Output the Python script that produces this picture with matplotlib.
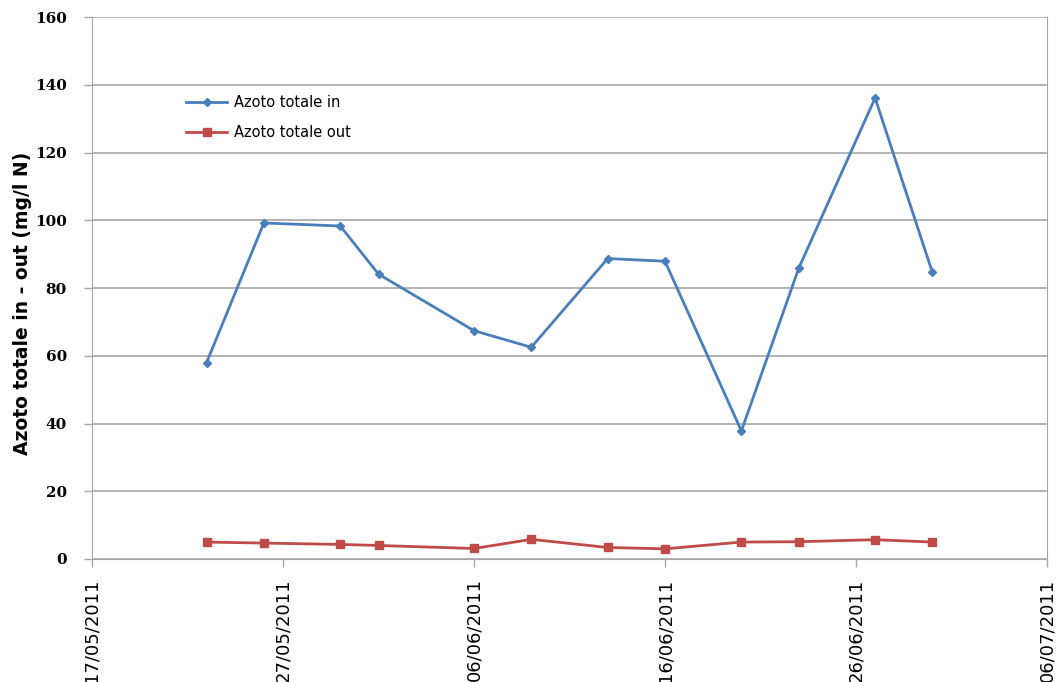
import numpy as np
import pandas as pd
import matplotlib
matplotlib.use('Agg')
import matplotlib.pyplot as plt
import matplotlib.dates as mdates

# date campioni e valori (mg/l N)
dates = ['2011-05-23', '2011-05-26', '2011-05-30', '2011-06-01', '2011-06-06', '2011-06-09',
         '2011-06-13', '2011-06-16', '2011-06-20', '2011-06-23', '2011-06-27', '2011-06-30']
azoto_in = [58.0, 99.2, 98.3, 84.1, 67.4, 62.5, 88.7, 87.9, 37.8, 85.8, 136.1, 84.6]
azoto_out = [5.0, 4.7, 4.3, 4.0, 3.1, 5.8, 3.4, 3.0, 5.0, 5.1, 5.7, 5.0]
tick_dates = ['2011-05-17', '2011-05-27', '2011-06-06', '2011-06-16', '2011-06-26', '2011-07-06']

x = pd.to_datetime(dates)
xt = pd.to_datetime(tick_dates)

fig = plt.figure(figsize=(10.6, 6.82), dpi=100)
ax = fig.add_axes([92/1060, 1-559/682, (1047-92)/1060, (559-17)/682])

ax.plot(x, azoto_in, color='#4A7EBB', lw=2, marker='D', ms=4, label='Azoto totale in')
ax.plot(x, azoto_out, color='#BE4B48', lw=2, marker='s', ms=6, label='Azoto totale out')

ax.set_xlim(xt[0], xt[-1])
ax.set_ylim(0, 160)
ax.set_yticks(np.arange(0, 161, 20))
ax.set_xticks(xt)
ax.xaxis.set_major_formatter(mdates.DateFormatter('%d/%m/%Y'))
ax.grid(axis='y', color='#a6a6a6', lw=1.2)
ax.set_axisbelow(True)

for s in ['left', 'bottom', 'right']:
    ax.spines[s].set_color('#a6a6a6')
ax.spines['top'].set_visible(False)
ax.tick_params(axis='both', colors='#a6a6a6', length=6, width=1)
ax.tick_params(axis='x', labelcolor='black', labelrotation=90, labelsize=13, pad=8)
ax.tick_params(axis='y', labelcolor='black', labelsize=11, pad=12)
for lb in ax.get_yticklabels():
    lb.set_family('DejaVu Serif')
    lb.set_fontweight('bold')

ax.set_ylabel('Azoto totale in - out (mg/l N)', fontsize=13.5, fontweight='bold')
ax.yaxis.set_label_coords(-0.063, 0.472)

leg = ax.legend(loc='upper left', bbox_to_anchor=(0.085, 0.88), frameon=False,
                handlelength=2.8, labelspacing=1.05, handletextpad=0.5,
                prop={'family': 'DejaVu Sans', 'size': 10.5})

fig.savefig('out.png', dpi=100)
